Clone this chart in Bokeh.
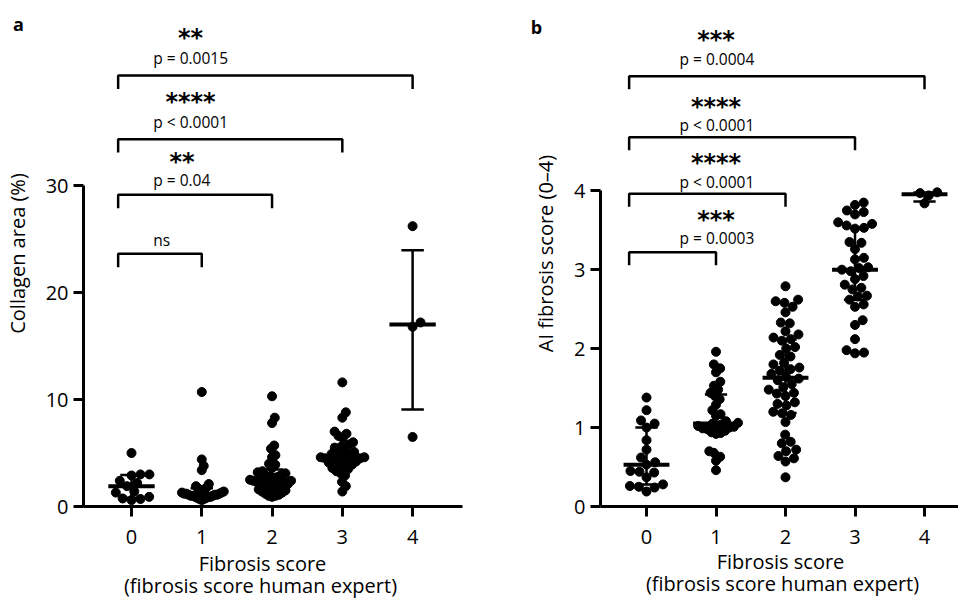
import numpy as np
from bokeh.plotting import figure
from bokeh.layouts import row
from bokeh.models import Label, FixedTicker, Range1d
from bokeh.core.properties import value
from bokeh.embed import file_html
from bokeh.resources import INLINE

# ---------------- data ----------------
groups = [0, 1, 2, 3, 4]
tick_labels = ["0", "1", "2", "3", "4"]

collagen_g0 = [5.0, 3.0, 3.0, 2.9, 2.4, 2.2, 1.9, 1.4, 1.3, 0.9, 0.75, 0.7, 0.6]
collagen_g1 = [10.7, 4.4, 3.8, 3.4, 2.1, 1.9, 1.8, 1.7, 1.6, 1.5, 1.4, 1.4, 1.3, 1.3, 1.2, 1.2,
               1.2, 1.1, 1.1, 1.1, 1.0, 1.0, 1.0, 0.9, 0.9, 0.9, 0.8, 0.8, 0.7, 0.7, 0.6]
collagen_g2 = [10.3, 8.3, 7.8, 5.7, 5.4, 4.8, 4.6, 4.0, 3.9, 3.6, 3.3, 3.2, 3.1, 3.0, 2.9, 2.8,
               2.8, 2.7, 2.6, 2.5, 2.5, 2.4, 2.4, 2.3, 2.2, 2.2, 2.1, 2.0, 2.0, 1.9, 1.8, 1.7,
               1.6, 1.5, 1.4, 1.3, 1.2, 1.1, 1.0, 1.0, 0.9]
collagen_g3 = [11.6, 8.8, 8.3, 7.0, 6.8, 6.6, 6.4, 6.0, 5.8, 5.6, 5.5, 5.3, 5.1, 5.0, 4.9, 4.8,
               4.7, 4.6, 4.6, 4.5, 4.5, 4.4, 4.3, 4.2, 4.1, 4.0, 3.9, 3.8, 3.6, 3.5, 3.3, 3.1,
               2.9, 2.3, 1.9, 1.4]
collagen_g4 = [26.2, 17.2, 16.8, 6.5]

ai_g0 = [1.38, 1.22, 1.09, 1.05, 1.0, 0.84, 0.72, 0.62, 0.56, 0.53, 0.45, 0.44, 0.43, 0.37,
         0.28, 0.26, 0.25, 0.24, 0.19]
ai_g1 = [1.96, 1.80, 1.75, 1.70, 1.58, 1.53, 1.48, 1.44, 1.40, 1.36, 1.29, 1.22, 1.17, 1.15,
         1.08, 1.06, 1.05, 1.04, 1.03, 1.02, 1.01, 1.00, 0.99, 0.98, 0.96, 0.94, 0.93, 0.92,
         0.70, 0.68, 0.63, 0.58, 0.46]
ai_g2 = [2.79, 2.62, 2.60, 2.58, 2.53, 2.46, 2.33, 2.32, 2.22, 2.18, 2.14, 2.12, 2.10, 2.02,
         2.00, 1.92, 1.90, 1.82, 1.80, 1.76, 1.74, 1.72, 1.68, 1.64, 1.62, 1.60, 1.55, 1.51,
         1.48, 1.44, 1.43, 1.40, 1.32, 1.30, 1.28, 1.20, 1.18, 1.16, 1.07, 0.91, 0.82, 0.80,
         0.72, 0.70, 0.64, 0.61, 0.57, 0.37]
ai_g3 = [3.85, 3.82, 3.75, 3.73, 3.70, 3.60, 3.58, 3.56, 3.53, 3.52, 3.35, 3.34, 3.26, 3.15,
         3.13, 3.03, 3.02, 3.00, 2.98, 2.92, 2.88, 2.81, 2.77, 2.75, 2.67, 2.66, 2.62, 2.56,
         2.53, 2.36, 2.30, 2.12, 1.98, 1.95, 1.94]
ai_g4 = [3.98, 3.97, 3.94, 3.84]

# comparisons (group 0 vs group k)
collagen_cmp_to = [1, 2, 3, 4]
collagen_cmp_stars = ["", "**", "****", "**"]
collagen_cmp_text = ["ns", "p = 0.04", "p < 0.0001", "p = 0.0015"]

ai_cmp_to = [1, 2, 3, 4]
ai_cmp_stars = ["***", "****", "****", "***"]
ai_cmp_text = ["p = 0.0003", "p < 0.0001", "p < 0.0001", "p = 0.0004"]

x_title_1 = "Fibrosis score"
x_title_2 = "(fibrosis score human expert)"

FONT = "Open Sans"


def swarm(vals, px_y, px_x, d=9.0, limit=22.0):
    vals = np.asarray(vals, float)
    order = np.argsort(vals, kind="stable")
    placed = []
    off = np.zeros(len(vals))
    for i in order:
        y = vals[i] * px_y
        near = [(px, py) for px, py in placed if abs(py - y) < d]
        cands = [0.0]
        for px, py in near:
            dx = np.sqrt(max(d * d - (py - y) ** 2, 0.0))
            cands += [px + dx, px - dx]
        cands.sort(key=lambda c: (round(abs(c), 6), -c))
        chosen = cands[-1]
        for c in cands:
            if all((c - px) ** 2 + (y - py) ** 2 >= d * d - 1e-6 for px, py in near):
                chosen = c
                break
        placed.append((chosen, y))
        off[i] = chosen
    m = np.max(np.abs(off)) if len(off) else 0
    if m > limit:
        off = off * (limit / m)
    return off / px_x


def panel(data, ymax_axis, yticks, ylabel, width, height, bl, br, bb, xr, yr,
          cmp_to, cmp_stars, cmp_text, br_y, txt_y, star_y, br_left, txt_x, star_x,
          leg, panel_letter, letter_xy, title1_xy, title2_xy):
    p = figure(width=width, height=height, output_backend="svg", toolbar_location=None,
               x_range=Range1d(*xr), y_range=Range1d(*yr),
               min_border_left=bl, min_border_right=br, min_border_top=0,
               min_border_bottom=bb)
    p.outline_line_color = None
    p.xgrid.visible = False
    p.ygrid.visible = False
    p.background_fill_color = "white"
    p.border_fill_color = "white"

    fw = width - bl - br
    fh = height - bb
    px_x = fw / (xr[1] - xr[0])
    px_y = fh / (yr[1] - yr[0])

    for g, vals in zip(groups, data):
        off = swarm(vals, px_y, px_x)
        xs = g + off
        p.scatter(xs, vals, size=9, color="black", marker="circle")
        q1, med, q3 = np.percentile(vals, [25, 50, 75], method="weibull")
        p.segment([g], [q1], [g], [q3], line_color="black", line_width=2.5)
        p.segment([g - 0.16, g - 0.16], [q1, q3], [g + 0.16, g + 0.16], [q1, q3],
                  line_color="black", line_width=2.5)
        p.segment([g - 0.33], [med], [g + 0.33], [med], line_color="black", line_width=4)

    # brackets
    for k, to in enumerate(cmp_to):
        yb = br_y[k]
        p.line([br_left, br_left, to, to], [yb - leg, yb, yb, yb - leg],
               line_color="black", line_width=2.5)
        p.add_layout(Label(x=txt_x, y=txt_y[k], text=cmp_text[k], text_align="left",
                           text_baseline="middle", text_font=FONT, text_font_size="15.5px",
                           text_color="black"))
        if cmp_stars[k]:
            p.add_layout(Label(x=star_x[k], y=star_y[k] - 4 / px_y, text=cmp_stars[k],
                               text_align="center", text_baseline="alphabetic",
                               text_font="DejaVu Sans", text_font_style="bold",
                               text_font_size="24px", text_color="black"))

    # texts outside the frame (overlay level so they are not clipped)
    p.text(x=[letter_xy[0]], y=[letter_xy[1]], text=[panel_letter],
           text_font=value(FONT), text_font_style="bold", text_font_size=value("18px"),
           text_align="center", text_baseline="middle", text_color="black", level="overlay")
    p.text(x=[title1_xy[0], title2_xy[0]], y=[title1_xy[1], title2_xy[1]],
           text=[x_title_1, x_title_2],
           text_font=value(FONT), text_font_size=value("20px"),
           text_align="center", text_baseline="middle", text_color="black", level="overlay")

    for ax in (p.xaxis[0], p.yaxis[0]):
        ax.axis_line_width = 3
        ax.axis_line_color = "black"
        ax.major_tick_line_width = 3
        ax.major_tick_line_color = "black"
        ax.major_tick_out = 10
        ax.major_tick_in = 0
        ax.minor_tick_line_color = None
        ax.major_label_text_font = FONT
        ax.major_label_text_font_size = "20px"
        ax.major_label_text_color = "black"
        ax.axis_label_text_font = FONT
        ax.axis_label_text_font_size = "20px"
        ax.axis_label_text_font_style = "normal"
        ax.axis_label_text_color = "black"

    p.xaxis.ticker = FixedTicker(ticks=groups)
    p.xaxis.major_label_overrides = {g: t for g, t in zip(groups, tick_labels)}
    p.xaxis.major_label_standoff = 13
    p.yaxis.ticker = FixedTicker(ticks=yticks)
    p.yaxis.bounds = (0, ymax_axis)
    p.yaxis.major_label_standoff = 5
    p.yaxis.axis_label = ylabel
    p.yaxis.axis_label_standoff = 12
    return p


pa = panel([collagen_g0, collagen_g1, collagen_g2, collagen_g3, collagen_g4],
           30, [0, 10, 20, 30], "Collagen area (%)",
           500, 600, 83, 38, 94, (-0.683, 4.71), (0, 47.29),
           collagen_cmp_to, collagen_cmp_stars, collagen_cmp_text,
           [23.62, 29.13, 34.33, 40.28], [24.86, 30.47, 35.92, 41.9],
           [0, 32.55, 38.16, 44.18], -0.19, 0.31, [0, 0.72, 0.84, 0.84],
           1.25, "a", (-1.608, 45.05), (1.864, -5.33), (1.835, -7.38))

pb = panel([ai_g0, ai_g1, ai_g2, ai_g3, ai_g4],
           4, [0, 1, 2, 3, 4], "AI fibrosis score (0\u20134)",
           458, 600, 100, 0, 92, (-0.662, 4.489), (0, 6.41),
           ai_cmp_to, ai_cmp_stars, ai_cmp_text,
           [3.222, 3.962, 4.678, 5.451], [3.403, 4.117, 4.833, 5.666],
           [3.676, 4.40, 5.107, 5.956], -0.25, 0.475, [1.0, 1.0, 1.0, 1.0],
           0.165, "b", (-1.583, 6.07), (1.928, -0.694), (1.957, -0.972))

layout = row(pa, pb)
open("out.html", "w").write(file_html(layout, INLINE))
